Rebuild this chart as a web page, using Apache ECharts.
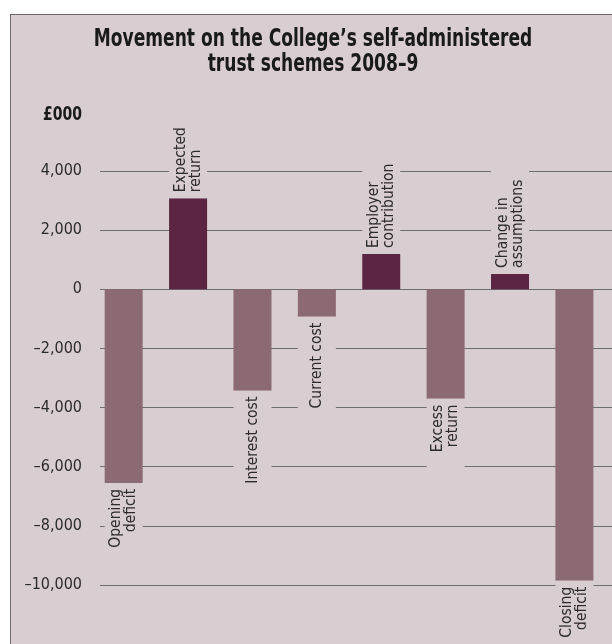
<!DOCTYPE html>
<html>
<head>
<meta charset="utf-8">
<script src="https://cdn.jsdelivr.net/npm/echarts@6/dist/echarts.min.js"></script>
<style>
  html, body { margin: 0; padding: 0; background: #ffffff; }
  #wrap { position: relative; width: 612px; height: 644px; overflow: hidden; background: #ffffff; }
  #panel { position: absolute; left: 10px; top: 14px; width: 700px; height: 700px;
           background: #d8cdd0; border: 1.5px solid #6b6b6b; box-sizing: border-box; }
  #chart { position: absolute; left: 0; top: 0; width: 612px; height: 644px; }
</style>
</head>
<body>
<div id="wrap">
  <div id="panel"></div>
  <div id="chart"></div>
</div>
<script>
// Movement items, in order, and their values in £000
const categories = [
  'Opening\ndeficit',
  'Expected\nreturn',
  'Interest cost',
  'Current cost',
  'Employer\ncontribution',
  'Excess\nreturn',
  'Change in\nassumptions',
  'Closing\ndeficit'
];
const movements = [-6550, 3080, -3430, -930, 1190, -3700, 520, -9860];

// Value scale
const yMin = -12000;
const yMax = 4000;
const yStep = 2000;

const titleText = 'Movement on the College\u2019s self-administered\ntrust schemes 2008\u20139';
const unitText = '\u00a3000';

const FONT = '"DejaVu Sans Condensed", "Liberation Sans Narrow", "Liberation Sans", sans-serif';
const PANEL = '#d8cdd0';
const GRIDLINE = '#6e6e6e';
const NEG_COLOR = '#8b6a74';
const POS_COLOR = '#5c2643';
const TEXT = '#2b2b2b';

const BAR_W = 38;
const LINE_H = 15;

function fmtTick(v) {
  const s = Math.abs(v).toLocaleString('en-GB');
  return v < 0 ? '\u2013' + s : s;
}

// Each label sits past the end of its bar, rotated, on a panel-coloured
// box the width of the bar so it breaks the gridlines behind it.
const barData = movements.map(function (v, i) {
  const lines = categories[i].split('\n').length;
  const side = (BAR_W - lines * LINE_H) / 2;
  const near = 6, far = 18;
  const up = v >= 0;
  return {
    value: v,
    itemStyle: { color: up ? POS_COLOR : NEG_COLOR },
    label: {
      position: up ? 'top' : 'bottom',
      align: up ? 'left' : 'right',
      // padding is in the text's own frame: [top, right, bottom, left]
      padding: up ? [side, far, side, near] : [side, near, side, far]
    }
  };
});

const chart = echarts.init(document.getElementById('chart'), null, { renderer: 'canvas' });

chart.setOption({
  backgroundColor: 'transparent',
  animation: false,
  graphic: [
    {
      type: 'text',
      x: 313,
      y: 27,
      scaleX: 0.76,
      style: {
        text: titleText,
        align: 'center',
        verticalAlign: 'top',
        fontFamily: FONT,
        fontWeight: 'bold',
        fontSize: 25,
        lineHeight: 25,
        fill: '#1a1a1a'
      }
    },
    {
      type: 'text',
      x: 43,
      y: 105,
      scaleX: 0.78,
      style: {
        text: unitText,
        align: 'left',
        verticalAlign: 'top',
        fontFamily: FONT,
        fontWeight: 'bold',
        fontSize: 20,
        lineHeight: 20,
        fill: '#1a1a1a'
      }
    }
  ],
  grid: [
    { left: 100, right: 0, top: 171, height: 473 },
    { left: 91.5, right: 5.4, top: 171, height: 473 }
  ],
  xAxis: [
    { gridIndex: 0, type: 'value', show: false },
    { gridIndex: 1, type: 'category', data: categories, show: false }
  ],
  yAxis: [
    {
      gridIndex: 0,
      type: 'value',
      min: yMin, max: yMax, interval: yStep,
      axisLine: { show: false },
      axisTick: { show: false },
      splitLine: { show: true, lineStyle: { color: GRIDLINE, width: 1 } },
      axisLabel: {
        showMinLabel: false,
        margin: 18,
        formatter: fmtTick,
        fontFamily: FONT, fontSize: 16, color: TEXT
      }
    },
    {
      gridIndex: 1,
      type: 'value',
      min: yMin, max: yMax, interval: yStep,
      show: false,
      splitLine: { show: false }
    }
  ],
  series: [
    {
      type: 'bar',
      xAxisIndex: 1,
      yAxisIndex: 1,
      barWidth: BAR_W,
      data: barData,
      label: {
        show: true,
        formatter: '{b}',
        rotate: 90,
        distance: 0,
        verticalAlign: 'middle',
        fontFamily: FONT,
        fontSize: 15.5,
        lineHeight: LINE_H,
        color: TEXT,
        backgroundColor: PANEL
      }
    }
  ]
});
</script>
</body>
</html>
